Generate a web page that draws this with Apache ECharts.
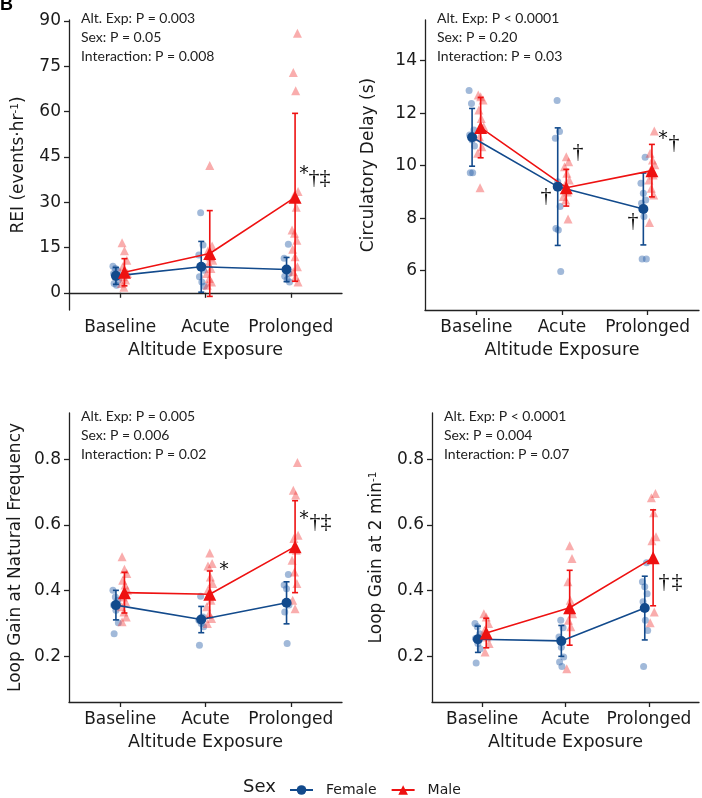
<!DOCTYPE html>
<html><head><meta charset="utf-8">
<script src="https://cdn.jsdelivr.net/npm/echarts@6/dist/echarts.min.js"></script>
<style>html,body{margin:0;padding:0;background:#fff}#c{width:702px;height:798px}</style>
</head><body><div id="c"></div>
<script>
const categories = ['Baseline', 'Acute', 'Prolonged'];

// Panel A: REI (events·hr-1)
const reiTicks = [0, 15, 30, 45, 60, 75, 90];
const reiFemale = [
  [8.8, 8.0, 7.3, 6.4, 5.3, 4.2, 3.1, 2.5],
  [26.5, 15.8, 12.5, 8.6, 7.5, 5.3, 3.6, 2.2],
  [16.1, 11.4, 7.5, 6.4, 5.5, 4.4, 3.6]
];
const reiMale = [
  [16.6, 13.9, 10.8, 8.6, 7.5, 6.4, 5.3, 4.2, 3.1, 1.8],
  [42.1, 15.5, 13.9, 11.9, 10.8, 9.7, 8.0, 6.4, 4.7, 3.6, 2.5],
  [85.9, 72.9, 66.9, 33.5, 32.0, 28.3, 20.8, 19.7, 17.4, 14.4, 11.9, 8.6, 7.0, 5.3, 3.6]
];
const reiFemaleMean = [5.6, 8.6, 7.7];
const reiFemaleSD = [2.8, 8.4, 4.0];
const reiMaleMean = [6.8, 13.0, 31.6];
const reiMaleSD = [4.5, 14.2, 27.8];

// Panel B: Circulatory delay (s)
const cdTicks = [6, 8, 10, 12, 14];
const cdFemale = [
  [12.86, 12.37, 11.36, 11.17, 10.98, 10.75, 9.73, 9.73],
  [12.48, 11.3, 11.04, 9.39, 8.44, 7.61, 7.55, 5.97],
  [10.32, 9.33, 8.95, 8.69, 8.57, 8.06, 6.44, 6.44]
];
const cdMale = [
  [12.69, 12.63, 12.5, 12.12, 11.8, 11.49, 11.1, 10.72, 10.47, 9.16],
  [10.34, 10.15, 9.96, 9.71, 9.45, 9.26, 9.0, 8.82, 8.69, 7.97],
  [11.32, 10.47, 10.22, 10.03, 9.83, 9.64, 9.45, 9.14, 8.88, 7.83]
];
const cdFemaleMean = [11.08, 9.2, 8.35];
const cdFemaleSD = [1.1, 2.24, 1.37];
const cdMaleMean = [11.45, 9.16, 9.81];
const cdMaleSD = [1.15, 0.7, 1.0];

// Panel C: Loop gain at natural frequency
const lgTicks = [0.2, 0.4, 0.6, 0.8];
const lgnFemale = [
  [0.401, 0.381, 0.371, 0.356, 0.340, 0.302, 0.269],
  [0.383, 0.32, 0.31, 0.30, 0.29, 0.234],
  [0.449, 0.417, 0.406, 0.356, 0.335, 0.239]
];
const lgnMale = [
  [0.503, 0.465, 0.452, 0.432, 0.417, 0.401, 0.381, 0.366, 0.351, 0.335, 0.32, 0.305],
  [0.515, 0.483, 0.475, 0.442, 0.422, 0.406, 0.371, 0.351, 0.33, 0.315, 0.30],
  [0.79, 0.706, 0.691, 0.569, 0.559, 0.523, 0.493, 0.457, 0.422, 0.371, 0.345]
];
const lgnFemaleMean = [0.356, 0.312, 0.363];
const lgnFemaleSD = [0.045, 0.04, 0.064];
const lgnMaleMean = [0.394, 0.389, 0.534];
const lgnMaleSD = [0.062, 0.071, 0.14];

// Panel D: Loop gain at 2 min-1
const lg2Female = [
  [0.30, 0.29, 0.269, 0.254, 0.239, 0.223, 0.18],
  [0.31, 0.287, 0.259, 0.228, 0.198, 0.183, 0.169],
  [0.485, 0.427, 0.412, 0.391, 0.366, 0.31, 0.279, 0.169]
];
const lg2Male = [
  [0.33, 0.32, 0.30, 0.279, 0.259, 0.239, 0.213],
  [0.537, 0.498, 0.427, 0.371, 0.33, 0.31, 0.29, 0.162],
  [0.696, 0.683, 0.637, 0.564, 0.552, 0.335, 0.302]
];
const lg2FemaleMean = [0.252, 0.247, 0.347];
const lg2FemaleSD = [0.04, 0.047, 0.097];
const lg2MaleMean = [0.271, 0.348, 0.5];
const lg2MaleSD = [0.045, 0.114, 0.146];

const pTextA = ['Alt. Exp: P = 0.003', 'Sex: P = 0.05', 'Interaction: P = 0.008'];
const pTextB = ['Alt. Exp: P < 0.0001', 'Sex: P = 0.20', 'Interaction: P = 0.03'];
const pTextC = ['Alt. Exp: P = 0.005', 'Sex: P = 0.006', 'Interaction: P = 0.02'];
const pTextD = ['Alt. Exp: P < 0.0001', 'Sex: P = 0.004', 'Interaction: P = 0.07'];

// ---------- presentation ----------
const AX = 'DejaVu Sans';
const FEM = '#124a8c';
const MAL = '#ee1111';
const FEM_PT = 'rgba(40,95,168,0.55)';
const MAL_PT = 'rgba(240,50,50,0.5)';
const DODGE = 0.05;
const jit = i => (((i * 37) % 11) - 5) * 0.007;

const panels = [
  { grid: {left: 69, top: 20, width: 273, height: 290}, min: -5.7, max: 90.3, ticks: reiTicks, fmt: v => String(v),
    name: '{a|REI (events·hr}{s|-1}{a|)}', gap: 42,
    f: reiFemale, m: reiMale, fm: reiFemaleMean, fs: reiFemaleSD, mm: reiMaleMean, ms: reiMaleSD },
  { grid: {left: 425, top: 20, width: 274, height: 290}, min: 4.5, max: 15.55, ticks: cdTicks, fmt: v => String(v),
    name: '{a|Circulatory Delay (s)}', gap: 48,
    f: cdFemale, m: cdMale, fm: cdFemaleMean, fs: cdFemaleSD, mm: cdMaleMean, ms: cdMaleSD },
  { grid: {left: 69, top: 413, width: 273, height: 289}, min: 0.061, max: 0.941, ticks: lgTicks, fmt: v => v.toFixed(1),
    name: '{a|Loop Gain at Natural Frequency}', gap: 45,
    f: lgnFemale, m: lgnMale, fm: lgnFemaleMean, fs: lgnFemaleSD, mm: lgnMaleMean, ms: lgnMaleSD },
  { grid: {left: 432, top: 413, width: 267, height: 289}, min: 0.061, max: 0.941, ticks: lgTicks, fmt: v => v.toFixed(1),
    name: '{a|Loop Gain at 2 min}{s|-1}', gap: 47,
    f: lg2Female, m: lg2Male, fm: lg2FemaleMean, fs: lg2FemaleSD, mm: lg2MaleMean, ms: lg2MaleSD }
];

const grids = [], xAxes = [], yAxes = [], series = [];
const axisLineStyle = {color: '#222', width: 1.3};

function errRender(color) {
  return function (params, api) {
    const x = api.value(0), m = api.value(1), sd = api.value(2);
    const top = api.coord([x, m + sd]);
    const bot = api.coord([x, m - sd]);
    const w = 3;
    const st = {stroke: color, lineWidth: 1.6};
    return {type: 'group', children: [
      {type: 'line', shape: {x1: top[0], y1: top[1], x2: bot[0], y2: bot[1]}, style: st},
      {type: 'line', shape: {x1: top[0] - w, y1: top[1], x2: top[0] + w, y2: top[1]}, style: st},
      {type: 'line', shape: {x1: bot[0] - w, y1: bot[1], x2: bot[0] + w, y2: bot[1]}, style: st}
    ]};
  };
}

panels.forEach((p, k) => {
  grids.push(Object.assign({containLabel: false}, p.grid));
  xAxes.push({
    type: 'value', gridIndex: k, min: 0.4, max: 3.6,
    axisLine: {show: true, lineStyle: axisLineStyle},
    axisTick: {show: true, length: 5, lineStyle: axisLineStyle, customValues: [1, 2, 3]},
    axisLabel: {customValues: [1, 2, 3], formatter: v => categories[Math.round(v) - 1] || '',
      fontFamily: AX, fontSize: 17, color: '#1a1a1a', margin: 9},
    splitLine: {show: false},
    name: 'Altitude Exposure', nameLocation: 'middle', nameGap: 31,
    nameTextStyle: {fontFamily: AX, fontSize: 17.5, color: '#1a1a1a'}
  });
  yAxes.push({
    type: 'value', gridIndex: k, min: p.min, max: p.max,
    axisLine: {show: true, lineStyle: axisLineStyle},
    axisTick: {show: true, length: 5, lineStyle: axisLineStyle, customValues: p.ticks},
    axisLabel: {customValues: p.ticks, formatter: p.fmt, fontFamily: AX, fontSize: 17, color: '#1a1a1a', margin: 8},
    splitLine: {show: false},
    name: p.name, nameLocation: 'middle', nameRotate: 90, nameGap: p.gap,
    nameTextStyle: {rich: {
      a: {fontFamily: AX, fontSize: 17, color: '#1a1a1a'},
      s: {fontFamily: AX, fontSize: 10.5, color: '#1a1a1a', verticalAlign: 'top'}
    }}
  });
  // mean lines (first so legend uses them)
  series.push({
    name: 'Female', type: 'line', xAxisIndex: k, yAxisIndex: k, z: 6,
    data: p.fm.map((v, i) => [i + 1 - DODGE, v]),
    symbol: 'circle', symbolSize: 10, lineStyle: {color: FEM, width: 1.6}, itemStyle: {color: FEM}
  });
  series.push({
    name: 'Male', type: 'line', xAxisIndex: k, yAxisIndex: k, z: 6,
    data: p.mm.map((v, i) => [i + 1 + DODGE, v]),
    symbol: 'triangle', symbolSize: 13, lineStyle: {color: MAL, width: 1.6}, itemStyle: {color: MAL}
  });
  const fPts = [], mPts = [];
  p.f.forEach((arr, c) => arr.forEach((v, i) => fPts.push([c + 1 - DODGE + jit(i + c), v])));
  p.m.forEach((arr, c) => arr.forEach((v, i) => mPts.push([c + 1 + DODGE + jit(i + c + 3), v])));
  series.push({
    name: 'Female points', type: 'scatter', xAxisIndex: k, yAxisIndex: k, z: 2,
    data: fPts, symbol: 'circle', symbolSize: 7, itemStyle: {color: FEM_PT}
  });
  series.push({
    name: 'Male points', type: 'scatter', xAxisIndex: k, yAxisIndex: k, z: 2,
    data: mPts, symbol: 'triangle', symbolSize: 9, itemStyle: {color: MAL_PT}
  });
  series.push({
    name: 'Female SD', type: 'custom', xAxisIndex: k, yAxisIndex: k, z: 5,
    data: p.fm.map((v, i) => [i + 1 - DODGE, v, p.fs[i]]),
    renderItem: errRender(FEM)
  });
  series.push({
    name: 'Male SD', type: 'custom', xAxisIndex: k, yAxisIndex: k, z: 5,
    data: p.mm.map((v, i) => [i + 1 + DODGE, v, p.ms[i]]),
    renderItem: errRender(MAL)
  });
});

const graphics = [];
function pLines(lines, x, ys) {
  lines.forEach((t, i) => graphics.push({type: 'text', left: x, top: ys[i] - 9,
    style: {text: t, font: '14px Lato', fill: '#222'}}));
}
pLines(pTextA, 81, [20, 39, 58]);
pLines(pTextB, 437, [20, 39, 58]);
pLines(pTextC, 81, [418, 437, 456]);
pLines(pTextD, 444, [418, 437, 456]);

function mark(t, x, y, serif) {
  graphics.push({type: 'text', x: x, y: y,
    style: {text: t, font: serif ? '22px "Liberation Serif"' : '19px "DejaVu Sans"', fill: '#111',
      textAlign: 'center', textVerticalAlign: 'middle'}});
}
// Panel A
mark('*', 304, 174); mark('†', 314, 178, true); mark('‡', 325, 178, true);
// Panel B
mark('†', 546, 196, true); mark('†', 578, 152, true); mark('†', 633, 221, true);
mark('*', 663, 139); mark('†', 674, 143, true);
// Panel C
mark('*', 224, 570); mark('*', 304, 519); mark('†', 315, 522, true); mark('‡', 326, 522, true);
// Panel D
mark('†', 664, 582, true); mark('‡', 677, 582, true);

// corner panel letter
graphics.push({type: 'text', left: 0, top: -4, style: {text: 'B', font: 'bold 18px "Liberation Sans"', fill: '#000'}});
// legend title
graphics.push({type: 'text', left: 243, top: 778, style: {text: 'Sex', font: '18px "DejaVu Sans"', fill: '#1a1a1a'}});

const option = {
  animation: false,
  backgroundColor: '#fff',
  grid: grids, xAxis: xAxes, yAxis: yAxes, series: series,
  legend: {
    data: ['Female', 'Male'], left: 284, top: 778, itemWidth: 23, itemHeight: 12, itemGap: 14,
    selectedMode: false,
    textStyle: {fontFamily: AX, fontSize: 14, color: '#1a1a1a', padding: [0, 0, 0, 8]}
  },
  graphic: graphics
};
const chart = echarts.init(document.getElementById('c'));
chart.setOption(option);
</script></body></html>
